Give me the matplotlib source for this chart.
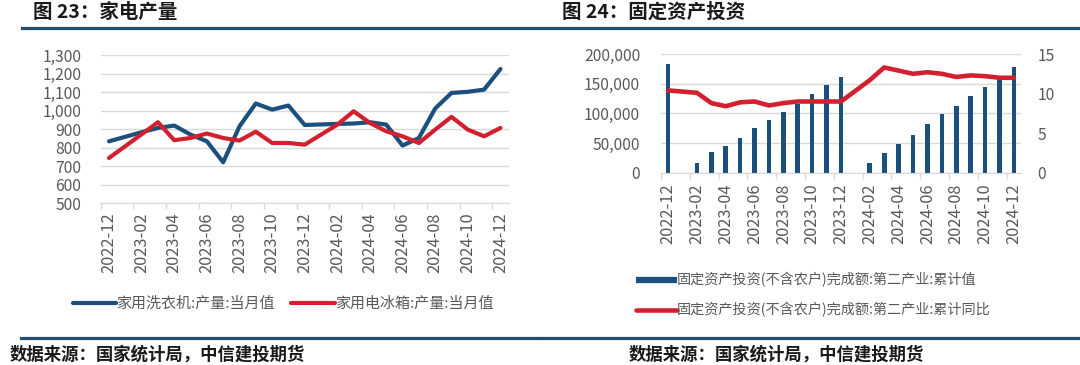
import numpy as np
import matplotlib

matplotlib.use("Agg")
import matplotlib.pyplot as plt
from matplotlib.lines import Line2D
from matplotlib.ticker import FuncFormatter

plt.rcParams['font.family'] = ['Noto Sans CJK SC', 'DejaVu Sans']

# month categories (January values are not published, left as gaps)
months = ["2022-12", "2023-01", "2023-02", "2023-03", "2023-04", "2023-05", "2023-06",
          "2023-07", "2023-08", "2023-09", "2023-10", "2023-11", "2023-12", "2024-01",
          "2024-02", "2024-03", "2024-04", "2024-05", "2024-06", "2024-07", "2024-08",
          "2024-09", "2024-10", "2024-11", "2024-12"]

# 图23: 家电产量 (万台)
washer = [835, np.nan, 884, 907, 920, 871, 835, 722, 916, 1039, 1006, 1028, 923, np.nan,
          929, 931, 938, 925, 812, 853, 1012, 1096, 1102, 1114, 1225]
fridge = [745, np.nan, 873, 938, 841, 853, 877, 853, 839, 887, 826, 826, 817, np.nan,
          925, 997, 934, 889, 862, 826, 898, 967, 898, 862, 907]

# 图24: 固定资产投资 第二产业
fai_value = [184000, np.nan, 15700, 34300, 45500, 57900, 74700, 88800, 102300, 115700,
             132000, 147200, 161800, np.nan, 15700, 32600, 47800, 62900, 82000, 98300,
             112400, 129200, 144900, 159000, 178700]
fai_yoy = [10.4, np.nan, 10.1, 8.8, 8.4, 8.9, 9.0, 8.5, 8.8, 9.0, 9.0, 9.0, 9.0, np.nan,
           11.7, 13.3, 12.9, 12.5, 12.7, 12.5, 12.1, 12.3, 12.2, 12.0, 12.0]

left_labels = ["家用洗衣机:产量:当月值", "家用电冰箱:产量:当月值"]
right_labels = ["固定资产投资(不含农户)完成额:第二产业:累计值",
                "固定资产投资(不含农户)完成额:第二产业:累计同比"]

BLUE = "#1b4f7c"
RED = "#d2202f"
GRID = "#d9d9d9"
TXT = "#595959"
DARK = "#1f4e6e"

fig = plt.figure(figsize=(10.8, 3.65), dpi=100)

x = np.arange(len(months))


def setup_xaxis(ax, pad):
    ax.set_xlim(-0.5, len(months) - 0.5)
    ax.set_xticks(x[::2])
    ax.set_xticklabels(months[::2], rotation=90, fontsize=11.8, color=TXT)
    ax.set_xticks(np.arange(-0.5, len(months) - 1, 2), minor=True)
    ax.tick_params(axis="x", which="major", length=0, pad=pad)
    ax.tick_params(axis="x", which="minor", length=4, color=GRID, width=1)
    for s in ("top", "left", "right"):
        ax.spines[s].set_visible(False)
    ax.spines["bottom"].set_color(GRID)
    ax.yaxis.grid(True, color=GRID, lw=1)
    ax.set_axisbelow(True)


# ---- left: appliance output
ax = fig.add_axes([0.0934, 0.4427, 0.3775, 0.4063])
for vals, c, lab in ((washer, BLUE, left_labels[0]), (fridge, RED, left_labels[1])):
    arr = np.asarray(vals, dtype=float)
    m = ~np.isnan(arr)
    ax.plot(x[m], arr[m], color=c, lw=3.0, solid_joinstyle="round",
            solid_capstyle="round", label=lab)
setup_xaxis(ax, pad=6.5)
ax.set_ylim(500, 1300)
ax.set_yticks(np.arange(500, 1301, 100))
ax.yaxis.set_major_formatter(FuncFormatter(lambda v, _: f"{v:,.0f}"))
ax.tick_params(axis="y", length=0, pad=14, labelsize=11.3, labelcolor=TXT)
ax.legend(loc="center", bbox_to_anchor=(0.262, 0.168), bbox_transform=fig.transFigure,
          ncol=2, frameon=False, fontsize=10.8, handlelength=2.9, handletextpad=0,
          columnspacing=1.1, labelcolor=TXT)

# ---- right: fixed asset investment
ax2 = fig.add_axes([0.612, 0.5268, 0.3334, 0.3252])
bv = np.asarray(fai_value, dtype=float)
mb = ~np.isnan(bv)
ax2.bar(x[mb], bv[mb], width=0.32, color=BLUE, zorder=2)
setup_xaxis(ax2, pad=7.5)
ax2.set_ylim(0, 200000)
ax2.set_yticks(np.arange(0, 200001, 50000))
ax2.yaxis.set_major_formatter(FuncFormatter(lambda v, _: f"{v:,.0f}"))
ax2.tick_params(axis="y", length=0, pad=15, labelsize=11.3, labelcolor=TXT)

axr = ax2.twinx()
yv = np.asarray(fai_yoy, dtype=float)
my = ~np.isnan(yv)
axr.plot(x[my], yv[my], color=RED, lw=3.3, solid_joinstyle="round", solid_capstyle="round")
axr.set_ylim(0, 15)
axr.set_yticks([0, 5, 10, 15])
axr.tick_params(axis="y", length=0, pad=12, labelsize=11.3, labelcolor=TXT)
for s in axr.spines.values():
    s.set_visible(False)

handles = [Line2D([], [], color=BLUE, lw=4.5, solid_capstyle="butt"),
           Line2D([], [], color=RED, lw=3.3, solid_capstyle="round")]
fig.legend(handles, right_labels, loc="center", bbox_to_anchor=(0.753, 0.192),
           frameon=False, fontsize=10.2, handlelength=2.9, handletextpad=0,
           labelspacing=1.05, labelcolor=TXT)

# ---- titles, rules, sources
fig.text(0.031, 0.967, "图 23：家电产量", fontsize=14, fontweight="bold",
         va="center", ha="left", color="#1a1a1a")
fig.text(0.520, 0.967, "图 24：固定资产投资", fontsize=14, fontweight="bold",
         va="center", ha="left", color="#1a1a1a")
for x0, x1 in ((0.020, 0.500), (0.503, 1.0)):
    fig.add_artist(Line2D([x0, x1], [0.923, 0.923], transform=fig.transFigure,
                          color=DARK, lw=2.3))
    fig.add_artist(Line2D([x0 - 0.001, x1], [0.074, 0.074], transform=fig.transFigure,
                          color=DARK, lw=2.3))
fig.text(0.009, 0.030, "数据来源：国家统计局，中信建投期货", fontsize=12.5,
         fontweight="bold", va="center", ha="left", color="#1a1a1a")
fig.text(0.582, 0.030, "数据来源：国家统计局，中信建投期货", fontsize=12.5,
         fontweight="bold", va="center", ha="left", color="#1a1a1a")

fig.savefig("out.png", dpi=100)
